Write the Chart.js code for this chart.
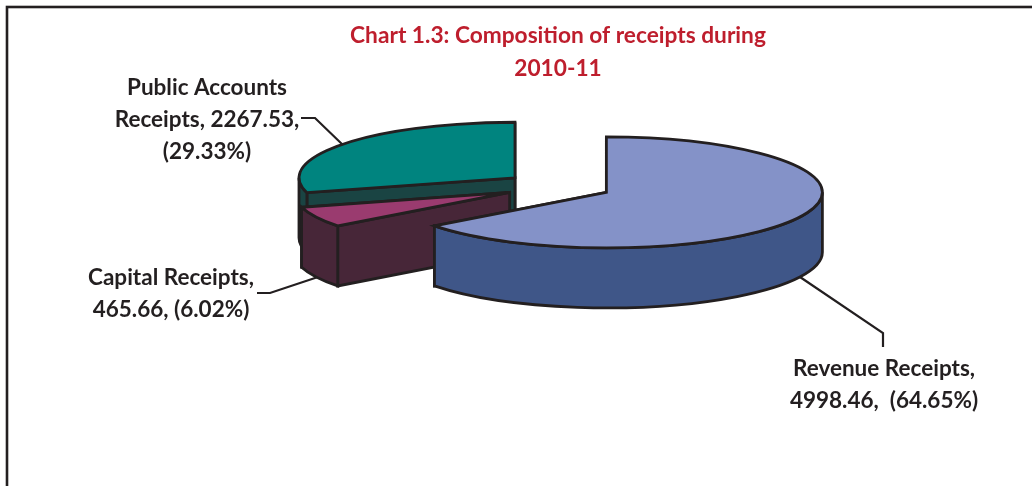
<!DOCTYPE html>
<html>
<head>
<meta charset="utf-8">
<title>Composition of receipts</title>
<script src="https://cdn.jsdelivr.net/npm/chart.js@4"></script>
<style>
  html, body { margin: 0; padding: 0; background: #fff; }
  canvas { display: block; }
</style>
</head>
<body>
<canvas id="myChart" width="1032" height="486"></canvas>
<script>
const categories = ['Revenue Receipts', 'Capital Receipts', 'Public Accounts Receipts'];
const receipts = [4998.46, 465.66, 2267.53];
const percents = ['64.65%', '6.02%', '29.33%'];
const titleLines = ['Chart 1.3: Composition of receipts during', '2010-11'];

const topColors = ['#8492c8', '#9a3b6f', '#00847f'];
const sideColors = ['#3f5688', '#472638', '#1a4443'];

const INK = '#231f20';
const TILT = 0.257;    // how flat the pie is seen
const DEPTH = 60;      // height of the pie walls

// text lines and leader line for each slice
const labelBoxes = [
  { x: 884, y: 369, lines: i => [categories[i] + ',', receipts[i] + ',  (' + percents[i] + ')'],
    leader: [[800, 277], [883, 333], [883, 347]] },
  { x: 171, y: 278, lines: i => [categories[i] + ',', receipts[i] + ', (' + percents[i] + ')'],
    leader: [[257, 293], [270, 293], [330, 273]] },
  { x: 207, y: 88, lines: i => ['Public Accounts', 'Receipts, ' + receipts[i] + ',', '(' + percents[i] + ')'],
    leader: [[301, 118], [315, 118], [345, 147]] }
];

// Chart.js has no 3D pie, so the arcs it lays out get drawn here as flattened solids
const pie3d = {
  id: 'pie3d',
  beforeDatasetsDraw(chart) {
    const ctx = chart.ctx;
    const arcs = chart.getDatasetMeta(0).data;

    ctx.save();
    ctx.strokeStyle = INK;
    ctx.lineJoin = 'miter';

    // frame, open past the bottom and right of the canvas
    ctx.lineWidth = 2.6;
    ctx.strokeRect(7, 7, chart.width + 40, chart.height + 40);

    // leaders go under the pie
    ctx.lineWidth = 2.2;
    labelBoxes.forEach(box => {
      ctx.beginPath();
      box.leader.forEach((p, n) => n ? ctx.lineTo(p[0], p[1]) : ctx.moveTo(p[0], p[1]));
      ctx.stroke();
    });
    ctx.lineWidth = 2.8;

    // back slices first
    for (let i = arcs.length - 1; i >= 0; i--) {
      drawSlice(ctx, arcs[i], topColors[i], sideColors[i]);
    }

    // labels
    ctx.fillStyle = INK;
    ctx.font = 'bold 22.5px Lato';
    ctx.textAlign = 'center';
    ctx.textBaseline = 'middle';
    labelBoxes.forEach((box, i) => {
      box.lines(i).forEach((line, n) => ctx.fillText(line, box.x, box.y + n * 32));
    });
    ctx.restore();
    return false;
  }
};

function drawSlice(ctx, arc, topColor, sideColor) {
  const { x, y, startAngle, endAngle, outerRadius } = arc.getProps(['x', 'y', 'startAngle', 'endAngle', 'outerRadius'], true);
  const mid = (startAngle + endAngle) / 2;
  const cx = x + Math.cos(mid) * arc.options.offset;
  const cy = y + Math.sin(mid) * arc.options.offset * TILT;
  const rx = outerRadius;
  const ry = outerRadius * TILT;

  const rimX = a => cx + Math.cos(a) * rx;
  const rimY = a => cy + Math.sin(a) * ry;
  const paint = color => {
    ctx.closePath();
    ctx.fillStyle = color;
    ctx.fill();
    ctx.stroke();
  };

  // flat cut faces, the far one first
  [endAngle, startAngle].forEach(a => {
    ctx.beginPath();
    ctx.moveTo(cx, cy);
    ctx.lineTo(rimX(a), rimY(a));
    ctx.lineTo(rimX(a), rimY(a) + DEPTH);
    ctx.lineTo(cx, cy + DEPTH);
    paint(sideColor);
  });

  // rim wall, only the part turned towards the viewer (0 to PI on the canvas)
  const from = Math.max(startAngle, 0);
  const to = Math.min(endAngle, Math.PI);
  if (to > from) {
    ctx.beginPath();
    ctx.ellipse(cx, cy, rx, ry, 0, from, to);
    ctx.ellipse(cx, cy + DEPTH, rx, ry, 0, to, from, true);
    paint(sideColor);
  }

  // top
  ctx.beginPath();
  ctx.moveTo(cx, cy);
  ctx.ellipse(cx, cy, rx, ry, 0, startAngle, endAngle);
  paint(topColor);
}

const myChart = new Chart(document.getElementById('myChart').getContext('2d'), {
  type: 'pie',
  data: {
    labels: categories,
    datasets: [{
      data: receipts,
      backgroundColor: topColors,
      borderColor: INK,
      offset: 54
    }]
  },
  options: {
    responsive: false,
    animation: false,
    radius: 216,
    layout: { padding: { left: 84, bottom: 198.5 } },
    plugins: {
      legend: { display: false },
      tooltip: { enabled: false },
      title: {
        display: true,
        text: titleLines,
        color: '#be1e2d',
        font: { family: 'Lato', size: 22.7, weight: 'bold', lineHeight: 1.45 },
        padding: { top: 19, bottom: 0 }
      }
    }
  },
  plugins: [pie3d]
});
</script>
</body>
</html>
